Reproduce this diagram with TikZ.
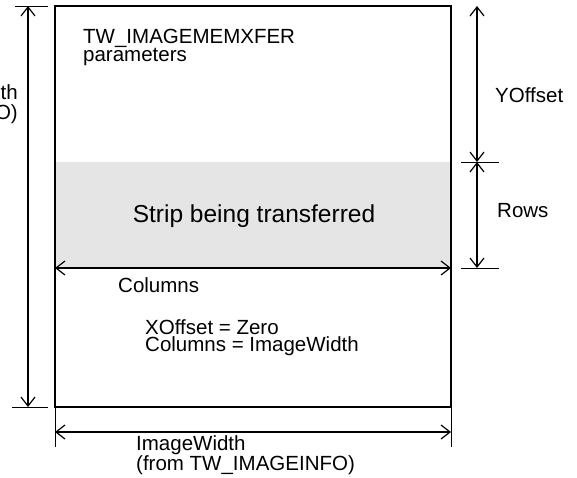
\documentclass[tikz,border=0pt]{standalone}
\usepackage{fontspec}
\setmainfont{Liberation Sans}
\usetikzlibrary{arrows.meta}

\begin{document}
\begin{tikzpicture}[x=1pt,y=-1pt,
        dim/.style={line width=1.2pt,{Straight Barb[length=9pt,width=14pt]}-{Straight Barb[length=9pt,width=14pt]}},
        dimtick/.style={line width=1pt},
        lbl/.style={inner sep=0pt,font=\fontsize{20.5}{17}\selectfont}]
        \def\xl{55} \def\xr{451}
        \def\yt{6} \def\yb{407}
        \def\ys{162} \def\ye{268}
        \useasboundingbox (0,0) rectangle (577,477);

        % image and strip
        \fill[black!10] (\xl,\ys) rectangle (\xr,\ye);
        \draw[line width=1.4pt] (\xl,\yt) rectangle (\xr,\yb);

        \coordinate (colL) at (\xl,\ye);
        \coordinate (colR) at (\xr,\ye);
        \coordinate (lenT) at (28,\yt);
        \coordinate (lenB) at (28,\yb);
        \coordinate (widL) at (\xl,432);
        \coordinate (widR) at (\xr,432);
        \coordinate (offT) at (477,\yt);
        \coordinate (offS) at (477,\ys);
        \coordinate (offE) at (477,\ye);

        % ticks
        \draw[dimtick] (15,\yt) -- (48,\yt);
        \draw[dimtick] (12,\yb) -- (48,\yb);
        \draw[dimtick] (461,\ys) -- (499,\ys);
        \draw[dimtick] (461,\ye) -- (499,\ye);
        \draw[dimtick] (\xl,\yb) -- (\xl,447);
        \draw[dimtick] (\xr,\yb) -- (\xr,447);

        % dimensions
        \draw[dim] (colL) -- (colR);
        \draw[dim] (lenT) -- (lenB);
        \draw[dim] (widL) -- (widR);
        \draw[dim] (offT) -- (offS);
        \draw[dim] (offS) -- (offE);

        \node (params) at (83,29) [lbl,anchor=north west,align=left] {TW\_IMAGEMEMXFER\\parameters};
        \node (strip) at (254,222) [inner sep=0pt,anchor=base,font=\fontsize{24.5}{28}\selectfont] {Strip being transferred};
        \node (columns) at (118,292) [lbl,anchor=base west] {Columns};
        \node (xoffset) at (145,319) [lbl,anchor=north west,align=left] {XOffset = Zero\\Columns = ImageWidth};
        \node (length) at (18,84) [lbl,anchor=north east,align=right] {ImageLength\\(from TW\_IMAGEINFO)};
        \node (yoffset) at (495,102) [lbl,anchor=base west] {YOffset};
        \node (rows) at (497,217) [lbl,anchor=base west] {Rows};
        \node (width) at (136,435) [lbl,anchor=north west,align=left] {ImageWidth\\(from TW\_IMAGEINFO)};
      \end{tikzpicture}
\end{document}
